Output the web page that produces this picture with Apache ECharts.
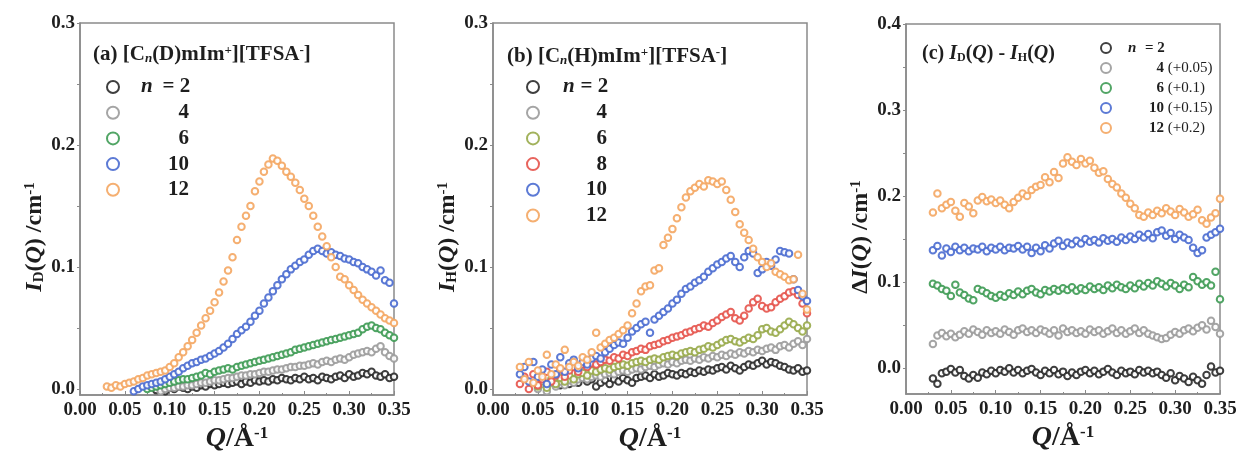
<!DOCTYPE html>
<html><head><meta charset="utf-8">
<script src="https://cdn.jsdelivr.net/npm/echarts@6/dist/echarts.min.js"></script>
<style>html,body{margin:0;padding:0;background:#fff}#c{width:1240px;height:461px}</style>
</head><body><div id="c"></div>
<script>
// Q grid (Å^-1)
const Q = [0.030,0.035,0.040,0.045,0.050,0.055,0.060,0.065,0.070,0.075,0.080,0.085,0.090,0.095,0.100,0.105,0.110,0.115,0.120,0.125,0.130,0.135,0.140,0.145,0.150,0.155,0.160,0.165,0.170,0.175,0.180,0.185,0.190,0.195,0.200,0.205,0.210,0.215,0.220,0.225,0.230,0.235,0.240,0.245,0.250,0.255,0.260,0.265,0.270,0.275,0.280,0.285,0.290,0.295,0.300,0.305,0.310,0.315,0.320,0.325,0.330,0.335,0.340,0.345,0.350];

// Panel (a) I_D(Q): each series ends at Q = 0.350
const aN2 = [-0.001,0.000,-0.002,0.001,0.000,0.002,0.001,0.000,0.002,0.001,0.003,0.002,0.004,0.003,0.004,0.005,0.004,0.005,0.006,0.004,0.006,0.005,0.007,0.006,0.007,0.006,0.008,0.007,0.009,0.008,0.007,0.009,0.008,0.010,0.008,0.009,0.007,0.010,0.009,0.008,0.010,0.011,0.009,0.012,0.010,0.011,0.013,0.012,0.014,0.011,0.010,0.012,0.009,0.010];
const aN4 = [-0.002,0.000,0.001,0.001,0.002,0.002,0.003,0.003,0.004,0.005,0.005,0.006,0.007,0.007,0.008,0.009,0.009,0.010,0.011,0.011,0.012,0.012,0.013,0.014,0.014,0.015,0.016,0.016,0.017,0.018,0.018,0.019,0.019,0.020,0.021,0.020,0.022,0.023,0.022,0.024,0.025,0.024,0.026,0.028,0.029,0.030,0.031,0.030,0.033,0.035,0.030,0.027,0.025];
const aN6 = [0.000,0.001,0.002,0.003,0.004,0.005,0.006,0.007,0.008,0.008,0.009,0.010,0.011,0.013,0.012,0.014,0.015,0.016,0.017,0.016,0.018,0.019,0.020,0.021,0.022,0.023,0.024,0.025,0.026,0.027,0.028,0.029,0.030,0.032,0.033,0.034,0.035,0.036,0.037,0.038,0.039,0.040,0.041,0.042,0.043,0.044,0.045,0.046,0.049,0.051,0.052,0.050,0.049,0.046,0.044,0.042];
const aN10 = [-0.002,0.000,0.002,0.003,0.004,0.005,0.006,0.008,0.010,0.012,0.014,0.017,0.019,0.021,0.022,0.024,0.025,0.027,0.029,0.031,0.034,0.037,0.041,0.045,0.048,0.051,0.055,0.060,0.064,0.070,0.075,0.080,0.085,0.090,0.094,0.098,0.101,0.104,0.106,0.110,0.113,0.115,0.113,0.111,0.112,0.110,0.109,0.107,0.106,0.104,0.103,0.100,0.098,0.096,0.093,0.097,0.089,0.087,0.070];
const aN12 = [0.002,0.001,0.003,0.002,0.004,0.005,0.006,0.008,0.009,0.011,0.012,0.013,0.014,0.015,0.018,0.021,0.026,0.030,0.035,0.040,0.046,0.052,0.058,0.064,0.071,0.079,0.088,0.097,0.108,0.122,0.133,0.142,0.150,0.162,0.170,0.178,0.184,0.189,0.187,0.183,0.178,0.174,0.169,0.163,0.156,0.150,0.142,0.133,0.125,0.117,0.108,0.100,0.092,0.090,0.085,0.081,0.077,0.073,0.070,0.067,0.064,0.061,0.058,0.056,0.054];

// Panel (b) I_H(Q)
const bN2 = [0.003,0.006,0.004,0.007,0.005,0.009,0.006,0.008,0.002,0.005,0.007,0.004,0.008,0.006,0.009,0.007,0.005,0.009,0.010,0.011,0.009,0.012,0.010,0.011,0.013,0.012,0.011,0.013,0.012,0.014,0.013,0.015,0.014,0.016,0.015,0.017,0.018,0.016,0.019,0.017,0.015,0.018,0.020,0.019,0.021,0.023,0.020,0.022,0.021,0.019,0.018,0.016,0.015,0.017,0.014,0.015];
const bN4 = [0.000,0.004,-0.002,0.005,0.002,0.006,0.003,0.007,0.005,0.008,0.009,0.008,0.010,0.011,0.010,0.012,0.013,0.012,0.014,0.015,0.014,0.016,0.017,0.016,0.018,0.019,0.018,0.020,0.021,0.020,0.022,0.021,0.023,0.024,0.023,0.025,0.024,0.026,0.025,0.027,0.026,0.028,0.027,0.029,0.028,0.030,0.029,0.031,0.030,0.032,0.031,0.033,0.034,0.032,0.035,0.036,0.034,0.037,0.039,0.036,0.041];
const bN6 = [0.002,0.006,0.001,0.008,0.004,0.009,0.006,0.011,0.008,0.012,0.013,0.011,0.015,0.014,0.016,0.017,0.016,0.018,0.019,0.020,0.019,0.021,0.022,0.023,0.022,0.024,0.025,0.024,0.026,0.027,0.028,0.027,0.029,0.030,0.031,0.030,0.032,0.033,0.035,0.034,0.036,0.038,0.040,0.041,0.039,0.038,0.040,0.042,0.041,0.044,0.049,0.050,0.047,0.046,0.049,0.052,0.055,0.053,0.050,0.047,0.052];
const bN8 = [0.004,0.010,0.000,0.012,0.003,0.008,0.014,0.006,0.011,0.016,0.010,0.015,0.018,0.014,0.020,0.018,0.021,0.020,0.022,0.024,0.023,0.026,0.025,0.028,0.027,0.030,0.031,0.033,0.032,0.035,0.036,0.037,0.039,0.040,0.042,0.043,0.044,0.046,0.047,0.049,0.050,0.052,0.051,0.054,0.056,0.059,0.061,0.063,0.058,0.056,0.060,0.066,0.071,0.074,0.068,0.066,0.067,0.071,0.074,0.076,0.079,0.080,0.077,0.070,0.062];
const bN10 = [0.012,0.018,0.006,0.022,0.010,0.016,0.004,0.020,0.012,0.026,0.014,0.021,0.024,0.017,0.022,0.020,0.025,0.027,0.025,0.030,0.033,0.036,0.038,0.037,0.042,0.047,0.050,0.053,0.055,0.046,0.057,0.060,0.063,0.066,0.070,0.073,0.078,0.082,0.084,0.087,0.089,0.092,0.096,0.099,0.102,0.104,0.107,0.109,0.104,0.100,0.108,0.113,0.111,0.095,0.098,0.104,0.101,0.106,0.113,0.112,0.111,0.090,0.081,0.076,0.072];
const bN12 = [0.018,0.008,0.022,0.005,0.015,0.010,0.028,0.012,0.020,0.017,0.032,0.018,0.022,0.019,0.026,0.024,0.030,0.046,0.034,0.037,0.040,0.042,0.045,0.048,0.052,0.062,0.070,0.080,0.084,0.085,0.097,0.099,0.118,0.124,0.131,0.140,0.149,0.157,0.162,0.165,0.168,0.166,0.171,0.170,0.168,0.170,0.163,0.155,0.145,0.135,0.128,0.122,0.115,0.108,0.104,0.100,0.103,0.096,0.094,0.092,0.089,0.090,0.110,0.078,0.065];

// Panel (c) I_D(Q) - I_H(Q), with offsets already included
const cN2 = [-0.012,-0.018,-0.006,-0.004,-0.001,-0.005,-0.002,-0.009,-0.012,-0.008,-0.011,-0.005,-0.007,-0.003,-0.006,-0.002,-0.004,0.000,-0.005,-0.002,-0.006,-0.003,-0.001,-0.005,-0.008,-0.003,-0.006,-0.002,-0.007,-0.004,-0.009,-0.005,-0.008,-0.004,-0.002,-0.006,-0.003,-0.007,-0.004,-0.001,-0.005,-0.008,-0.003,-0.006,-0.004,-0.007,-0.002,-0.005,-0.003,-0.006,-0.004,-0.008,-0.011,-0.006,-0.014,-0.009,-0.012,-0.016,-0.010,-0.014,-0.018,-0.008,0.002,-0.005,-0.003];
const cN4 = [0.028,0.038,0.041,0.037,0.040,0.036,0.039,0.043,0.040,0.045,0.042,0.039,0.044,0.041,0.043,0.040,0.045,0.042,0.039,0.044,0.046,0.042,0.044,0.041,0.045,0.043,0.040,0.044,0.038,0.046,0.042,0.044,0.041,0.043,0.040,0.045,0.042,0.044,0.040,0.043,0.046,0.041,0.044,0.040,0.043,0.046,0.041,0.044,0.040,0.038,0.036,0.034,0.035,0.039,0.042,0.040,0.044,0.046,0.043,0.047,0.050,0.045,0.055,0.048,0.040];
const cN6 = [0.098,0.096,0.092,0.090,0.084,0.097,0.088,0.085,0.081,0.079,0.092,0.090,0.087,0.084,0.082,0.085,0.083,0.087,0.085,0.089,0.086,0.090,0.092,0.088,0.086,0.091,0.089,0.092,0.090,0.093,0.091,0.094,0.090,0.093,0.091,0.095,0.092,0.094,0.091,0.096,0.093,0.097,0.094,0.092,0.096,0.093,0.098,0.095,0.099,0.096,0.101,0.098,0.095,0.099,0.096,0.092,0.097,0.094,0.106,0.101,0.097,0.100,0.096,0.112,0.080];
const cN10 = [0.137,0.142,0.131,0.139,0.135,0.141,0.137,0.140,0.136,0.139,0.138,0.141,0.136,0.140,0.138,0.141,0.137,0.140,0.139,0.142,0.138,0.141,0.134,0.140,0.136,0.143,0.139,0.145,0.148,0.142,0.146,0.144,0.148,0.145,0.150,0.147,0.149,0.146,0.151,0.148,0.150,0.147,0.152,0.149,0.153,0.150,0.155,0.152,0.156,0.151,0.158,0.160,0.154,0.157,0.150,0.155,0.152,0.149,0.140,0.134,0.137,0.152,0.155,0.158,0.162];
const cN12 = [0.181,0.203,0.186,0.190,0.193,0.183,0.176,0.192,0.188,0.180,0.195,0.199,0.194,0.196,0.192,0.195,0.190,0.186,0.193,0.198,0.203,0.200,0.207,0.211,0.213,0.222,0.216,0.228,0.221,0.238,0.245,0.240,0.236,0.243,0.238,0.241,0.233,0.227,0.229,0.220,0.214,0.210,0.203,0.198,0.191,0.186,0.178,0.176,0.181,0.178,0.183,0.180,0.186,0.182,0.178,0.185,0.181,0.176,0.179,0.184,0.172,0.168,0.175,0.180,0.197];

// Legend labels and tick values
const labelsA = ['n = 2','4','6','10','12'];
const labelsB = ['n = 2','4','6','8','10','12'];
const labelsC = ['n = 2','4 (+0.05)','6 (+0.1)','10 (+0.15)','12 (+0.2)'];
const yTicksAB = [0,0.05,0.1,0.15,0.2,0.25,0.3];
const yLabelsAB = [0,0.1,0.2,0.3];
const yTicksC = [0,0.05,0.1,0.15,0.2,0.25,0.3,0.35,0.4];
const yLabelsC = [0,0.1,0.2,0.3,0.4];

const colorsA = ['#2a2a2a','#9b9b9b','#3e9b54','#4a6bd0','#f4a662'];
const colorsB = ['#2a2a2a','#9b9b9b','#98aa4a','#e6534b','#4a6bd0','#f4a662'];
const colorsC = ['#2a2a2a','#9b9b9b','#3e9b54','#4a6bd0','#f4a662'];

const F = 'Liberation Serif';
const TXT = '#1e1e1e';
const AX = '#8a8a8a';

function pts(vals){ const q = Q.slice(Q.length - vals.length); return vals.map((v,i)=>[q[i], v]); }

const panels = [
  {id:'a', data:[aN2,aN4,aN6,aN10,aN12], labels:labelsA, colors:colorsA},
  {id:'b', data:[bN2,bN4,bN6,bN8,bN10,bN12], labels:labelsB, colors:colorsB},
  {id:'c', data:[cN2,cN4,cN6,cN10,cN12], labels:labelsC, colors:colorsC}
];

const labelMap = {};
const series = [];
panels.forEach((p, gi) => {
  p.data.forEach((vals, k) => {
    const name = p.id + k;
    labelMap[name] = p.labels[k];
    series.push({
      name, type:'scatter', xAxisIndex:gi, yAxisIndex:gi,
      data: pts(vals), symbol:'emptyCircle', symbolSize:6.5,
      itemStyle:{color:p.colors[k], borderWidth:1.1, opacity:0.9},
      emphasis:{disabled:true}, silent:true
    });
  });
});

function legendFmt(name){
  const lab = labelMap[name];
  if (lab.indexOf('n = ') === 0) return '{ni|n}{eq| = ' + lab.slice(4) + '}';
  const sp = lab.indexOf(' ');
  if (sp < 0) return '{num|' + lab + '}';
  return '{num|' + lab.slice(0, sp) + '}{suf|' + lab.slice(sp) + '}';
}

function legendRich(fs, pad, eqW, numW){
  const b = {fontFamily:F, fontSize:fs, fontWeight:'bold', color:TXT, lineHeight:fs};
  return {
    ni: Object.assign({}, b, {fontStyle:'italic', padding:[0,0,0,pad]}),
    eq: Object.assign({}, b, {width:eqW, align:'right'}),
    num: Object.assign({}, b, {width:numW, align:'right'}),
    suf: Object.assign({}, b, {fontWeight:'normal', align:'right'})
  };
}

function mkLegend(p, left, top, icon, gap, fs, pad, eqW, numW){
  return {
    orient:'vertical', left, top, padding:0, itemWidth:icon, itemHeight:icon, itemGap:gap,
    data: p.data.map((_, k) => p.id + k), formatter: legendFmt,
    itemStyle:{borderWidth: icon > 11 ? 2.6 : 2.1},
    textStyle:{fontFamily:F, fontSize:fs, fontWeight:'bold', color:TXT, lineHeight:fs, rich:legendRich(fs, pad, eqW, numW)},
    selectedMode:false
  };
}

function richText(fs){
  const b = {fontFamily:F, fontSize:fs, fontWeight:'bold', color:TXT};
  const s = Math.round(fs*0.62);
  return {
    i: Object.assign({}, b, {fontStyle:'italic'}),
    sub: Object.assign({}, b, {fontSize:s, verticalAlign:'bottom', lineHeight:6, padding:[3,0,0,0]}),
    subi: Object.assign({}, b, {fontSize:s, fontStyle:'italic', verticalAlign:'bottom', lineHeight:6, padding:[3,0,0,0]}),
    sup: Object.assign({}, b, {fontSize:s, verticalAlign:'top', lineHeight:6}),
    n: Object.assign({}, b, {fontWeight:'normal'})
  };
}

const grids = [
  {left:80, top:23, width:314, height:372},
  {left:493, top:23, width:314, height:372},
  {left:906, top:24, width:314, height:370}
].map(g => Object.assign(g, {show:true, borderColor:AX, borderWidth:1.5, backgroundColor:'transparent', containLabel:false, outerBoundsMode:'none'}));

const xName = '{i|Q}/Å{sup|-1}';
const xAxes = [0,1,2].map(gi => ({
  gridIndex:gi, type:'value', min:0, max:0.35, interval:0.05,
  axisLine:{show:true, onZero:false, lineStyle:{color:AX, width:1.5}},
  axisTick:{show:true, inside:true, length:4, lineStyle:{color:AX}},
  minorTick:{show:true, splitNumber:2, length:2, lineStyle:{color:AX}},
  splitLine:{show:false},
  axisLabel:{margin:6, fontFamily:F, fontSize:19, fontWeight:'bold', color:TXT, formatter:v=>v.toFixed(2)},
  name:xName, nameLocation:'middle', nameGap:26,
  nameTextStyle:{fontFamily:F, fontSize:28, fontWeight:'bold', color:TXT, rich:richText(28)}
}));

const yNames = ['{i|I}{sub|D}({i|Q}) /cm{sup|-1}', '{i|I}{sub|H}({i|Q}) /cm{sup|-1}', 'Δ{i|I}({i|Q}) /cm{sup|-1}'];
const yAxes = [0,1,2].map(gi => ({
  gridIndex:gi, type:'value',
  min: gi < 2 ? -0.005 : -0.03, max: gi < 2 ? 0.3 : 0.4,
  axisLine:{show:true, onZero:false, lineStyle:{color:AX, width:1.5}},
  axisTick:{show:true, inside:false, length:3, lineStyle:{color:AX}, customValues: gi < 2 ? yTicksAB : yTicksC},
  splitLine:{show:false},
  axisLabel:{margin:5, fontFamily:F, fontSize:19, fontWeight:'bold', color:TXT, formatter:v=>v.toFixed(1), customValues: gi < 2 ? yLabelsAB : yLabelsC},
  name:yNames[gi], nameLocation:'middle', nameRotate:90, nameGap:33,
  nameTextStyle:{fontFamily:F, fontSize:24, fontWeight:'bold', color:TXT, rich:richText(24), padding:[0,56,0,0]}
}));

const titles = [
  {left:93, top:44, text:'(a) [C{subi|n}(D)mIm{sup|+}][TFSA{sup|-}]'},
  {left:507, top:46, text:'(b) [C{subi|n}(H)mIm{sup|+}][TFSA{sup|-}]'},
  {left:922, top:44, text:'(c) {i|I}{sub|D}({i|Q}) - {i|I}{sub|H}({i|Q})'}
].map((t, k) => Object.assign(t, {
  padding:0,
  textStyle:{fontFamily:F, fontSize: k < 2 ? 21 : 20, fontWeight:'bold', color:TXT, rich:richText(k < 2 ? 21 : 20)}
}));

const legends = [
  mkLegend(panels[0], 106, 76.5, 12, 4.7, 21, 17, 37.5, 65),
  mkLegend(panels[1], 526, 76.5, 12, 4.7, 21, 19, 33.5, 63),
  mkLegend(panels[2], 1100, 40.5, 10, 5, 15, 12, 28.5, 48)
];

const chart = echarts.init(document.getElementById('c'), null, {renderer:'canvas'});
chart.setOption({
  animation:false,
  backgroundColor:'#fff',
  title:titles, legend:legends, grid:grids, xAxis:xAxes, yAxis:yAxes, series
});
</script>
</body></html>
